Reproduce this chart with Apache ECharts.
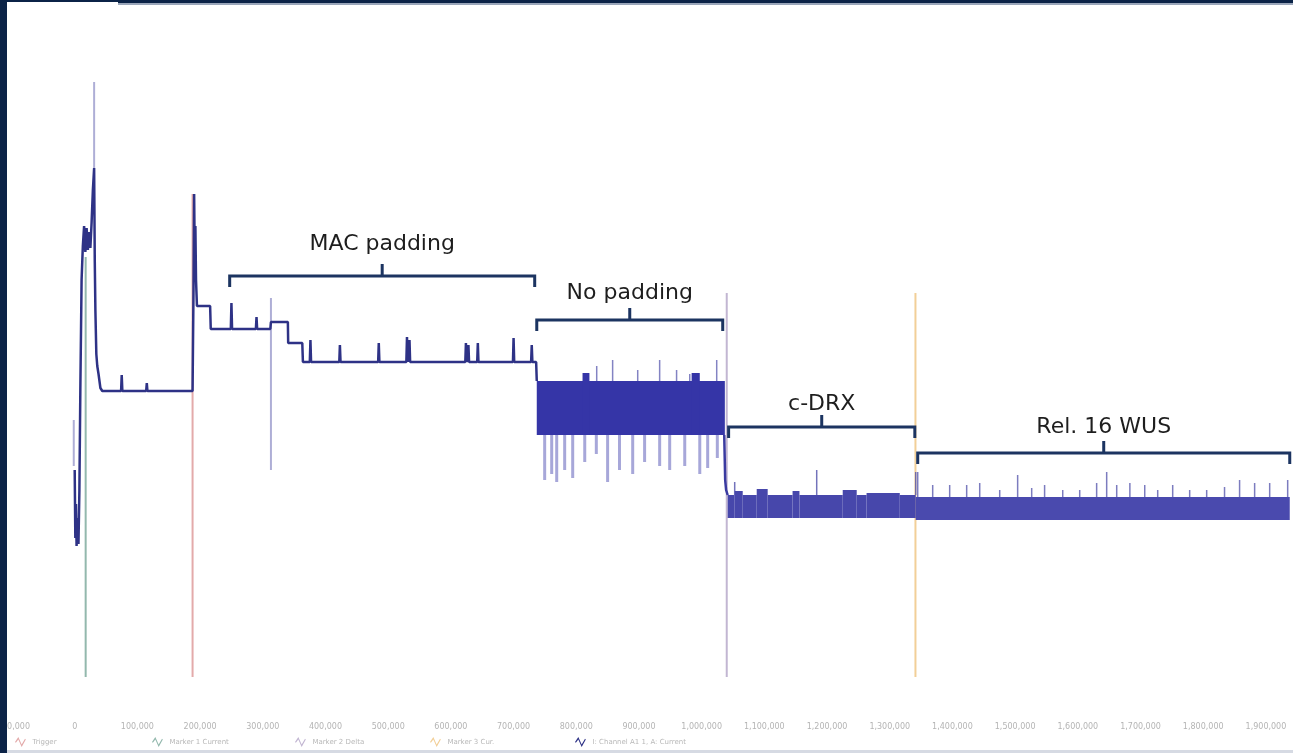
<!DOCTYPE html>
<html><head><meta charset="utf-8">
<script src="https://cdn.jsdelivr.net/npm/echarts@6/dist/echarts.min.js"></script>
<style>html,body{margin:0;padding:0;background:#fff}#c{width:1293px;height:753px}</style>
</head><body><div id="c"></div>
<script>
// time in thousands of samples, current in arbitrary units
const mainTrace = [
 [0,110],[1,76],[2,93],[3,72],[4.5,86],[6,73],[7.5,100],[9,150],[11,205],[13,222],[15,232],[17,219],[19,231],[21,220],[23,229],[25,221],[27,234],[29,250],[31,261],[32,215],[33,190],[34.5,168],[36,162],[38,158],[41,151],[44,149.5],
 [74,149.5],[75,157.5],[76,149.5],[114,149.5],[115,153.5],[116,149.5],[188,149.5],
 [189.5,200],[190.5,248],[191.5,215],[192.5,232],[193.5,205],[195,192],[216,192],[217,180.5],
 [249,180.5],[250,193.5],[251,180.5],[289,180.5],[290,186.5],[291,180.5],[312,180.5],[313,184],[340,184],[340.5,173.5],[363,173.5],[364,164],
 [375,164],[376,175],[377,164],[422,164],[423,172.5],[424,164],[484,164],[485,173.5],[486,164],[529,164],[530,176.5],[531,164],[533,164],[534,175],[535,164],
 [623,164],[624,173.5],[625,164],[627,164],[628,172.5],[629,164],[642,164],[643,173.5],[644,164],[699,164],[700,176],[701,164],[728,164],[729,172.5],[730,164],[736,164],[737,154.5]
];
const transition = [[1036,127.5],[1037.5,105],[1039,100],[1041.5,97.5]];
const lightSegments = [[-1.5,112,135],[31,261,304],[313,110,196]];
// bands: [tStart, tEnd, low, high]
const noPadBand = [[737,1037,127.5,154.5],[810,821,127.5,158.5],[984,997,127.5,158.5]];
const cdrxBand = [[1041.5,1052.7,86,97.5],[1052.7,1065.5,86,99.5],[1065.5,1087.8,86,97.5],[1087.8,1105.3,86,100.5],[1105.3,1145,86,97.5],[1145,1156,86,99.5],[1156,1225,86,97.5],[1225,1247.3,86,100],[1247.3,1263,86,97.5],[1263,1316,86,98.5],[1316,1341.4,86,97.5]];
const wusBand = [[1341.4,1938,85,96.5]];
// spikes / fingers: [t, low, high]
const noPadFingers = [[749.6,105,127.5],[760.8,108,127.5],[768.8,104,127.5],[781.5,110,127.5],[794.3,106,127.5],[813.5,114,127.5],[832,118,127.5],[850,104,127.5],[869,110,127.5],[890,108,127.5],[909,114,127.5],[933,112,127.5],[949,110,127.5],[973,112,127.5],[997,108,127.5],[1009.6,111,127.5],[1025,116,127.5]];
const noPadSpikes = [[832.6,154.5,162],[858,154.5,165],[898,154.5,160],[933,154.5,165],[960,154.5,160],[981,154.5,158],[1024,154.5,165]];
const cdrxSpikes = [[1052.7,97.5,104],[1183.5,97.5,110],[1341.4,97.5,109]];
const wusSpikes = [[1344.6,96.5,109],[1368.5,96.5,102.5],[1395.6,96.5,102.5],[1422.7,96.5,102.5],[1443.5,96.5,103.5],[1475.4,96.5,100],[1504,96.5,107.5],[1526.4,96.5,101],[1547,96.5,102.5],[1575.9,96.5,100],[1603,96.5,100],[1630,96.5,103.5],[1646,96.5,109],[1662,96.5,102.5],[1683,96.5,103.5],[1706.7,96.5,102.5],[1727.4,96.5,100],[1751.3,96.5,102.5],[1778.4,96.5,100],[1805.5,96.5,100],[1834,96.5,101.5],[1858,96.5,105],[1882,96.5,103.5],[1906,96.5,103.5],[1934.7,96.5,105]];
// markers: [t, bottom, top]
const markerNames = ['Trigger', 'Marker 1 Current', 'Marker 2 Delta', 'Marker 3 Cur.'];
const markerData = [[188,6.5,248],[17.5,6.5,216.5],[1040,6.5,198.5],[1341,6.5,198.5]];
const traceName = 'I: Channel A1 1, A: Current';
// annotation brackets: [tStart, tEnd, level]
const bracketLabels = ['MAC padding', 'No padding', 'c-DRX', 'Rel. 16 WUS'];
const bracketData = [[247.2,733.7,207],[737,1033.6,185],[1043,1340,131.5],[1344.6,1938,118.5]];
const xAxisCfg = {min: -100, max: 1940, interval: 100};

// ---- styling / layout ----
const markerColors = ['#e3aaaa', '#93b8ad', '#c2b6d2', '#f2cf98'];
const legendLeft = [15, 152, 295, 430, 575];
const labelGap = [32, 27, 23, 26];
const zigzagIcon = 'path://M0,7 L4,1 L8,10 L12,3 L13,4 L8,13 L4,4 L1,8 Z';

function segRenderer(color, width) {
  return function (params, api) {
    const a = api.coord([api.value(0), api.value(1)]);
    const b = api.coord([api.value(0), api.value(2)]);
    return {type: 'line', shape: {x1: a[0], y1: a[1], x2: b[0], y2: b[1]}, style: {stroke: color, lineWidth: width}};
  };
}
function bandRenderer(color) {
  return function (params, api) {
    const a = api.coord([api.value(0), api.value(3)]);
    const b = api.coord([api.value(1), api.value(2)]);
    return {type: 'rect', shape: {x: a[0], y: a[1], width: b[0] - a[0], height: b[1] - a[1]}, style: {fill: color}};
  };
}
function bracketRenderer(params, api) {
  const i = params.dataIndex;
  const a = api.coord([api.value(0), api.value(2)]);
  const b = api.coord([api.value(1), api.value(2)]);
  const y = a[1], xm = (a[0] + b[0]) / 2;
  const c = '#1c3461';
  return {type: 'group', children: [
    {type: 'polyline', shape: {points: [[a[0], y + 11], [a[0], y], [b[0], y], [b[0], y + 11]]}, style: {stroke: c, lineWidth: 3, fill: 'none'}},
    {type: 'line', shape: {x1: xm, y1: y, x2: xm, y2: y - 12}, style: {stroke: c, lineWidth: 3}},
    {type: 'text', style: {text: bracketLabels[i], x: xm, y: y - labelGap[i], align: 'center', verticalAlign: 'middle', fontSize: 22, fontFamily: 'DejaVu Sans', fill: '#1e1e1e'}}
  ]};
}
function custom(data, renderItem, z, encode) {
  return {type: 'custom', data: data, renderItem: renderItem, z: z, silent: true, encode: encode || {x: 0, y: [1, 2]}};
}

const series = [];
markerNames.forEach((n, i) => {
  series.push({name: n, type: 'line', symbol: 'none', z: 1, silent: true, color: markerColors[i],
    lineStyle: {width: 2, color: markerColors[i]},
    data: [[markerData[i][0], markerData[i][1]], [markerData[i][0], markerData[i][2]]]});
});
series.push(custom(lightSegments, segRenderer('#aeaed6', 2), 2));
series.push(custom(noPadFingers, segRenderer('rgba(95,95,185,0.55)', 3), 3));
series.push(custom(noPadBand, bandRenderer('#3535a7'), 4, {x: [0, 1], y: [2, 3]}));
series.push(custom(cdrxBand, bandRenderer('#4747ab'), 4, {x: [0, 1], y: [2, 3]}));
series.push(custom(wusBand, bandRenderer('#4a4aae'), 4, {x: [0, 1], y: [2, 3]}));
series.push(custom(noPadSpikes, segRenderer('rgba(90,90,175,0.75)', 1.5), 3));
series.push(custom(cdrxSpikes, segRenderer('rgba(80,80,170,0.8)', 1.5), 3));
series.push(custom(wusSpikes, segRenderer('rgba(80,80,170,0.75)', 1.5), 3));
series.push({name: traceName, type: 'line', symbol: 'none', z: 5, color: '#2e3286', silent: true,
  lineStyle: {width: 2.5, color: '#2e3286'}, data: mainTrace});
series.push({type: 'line', symbol: 'none', z: 5, silent: true, lineStyle: {width: 2.5, color: '#3a3aa0'}, data: transition});
series.push(custom(bracketData, bracketRenderer, 10, {x: [0, 1], y: 2}));

const legendNames = [markerNames[0], markerNames[1], markerNames[2], markerNames[3], traceName];
const chart = echarts.init(document.getElementById('c'));
chart.setOption({
  backgroundColor: '#ffffff',
  animation: false,
  grid: {left: 12, right: 2, top: 80, bottom: 63, containLabel: false, outerBoundsMode: 'none'},
  xAxis: {type: 'value', min: xAxisCfg.min, max: xAxisCfg.max, interval: xAxisCfg.interval,
    axisLine: {show: false}, axisTick: {show: false}, splitLine: {show: false},
    axisLabel: {margin: 33, fontSize: 8, color: '#b4b4b4', showMaxLabel: false, fontFamily: 'DejaVu Sans',
      formatter: v => (v * 1000).toLocaleString('en-US')}},
  yAxis: {type: 'value', min: 0, max: 305, show: false, splitLine: {show: false}},
  legend: legendNames.map((n, i) => ({data: [{name: n, icon: zigzagIcon}], left: legendLeft[i], top: 737, itemWidth: 14, itemHeight: 10, padding: 0,
    textStyle: {fontSize: 7, color: '#b8b8b8', fontFamily: 'DejaVu Sans'}})),
  series: series,
  graphic: [
    {type: 'rect', left: 0, top: 0, shape: {width: 7, height: 753}, style: {fill: '#0b2347'}, z: 100},
    {type: 'rect', left: 0, top: 0, shape: {width: 118, height: 2}, style: {fill: '#0b2347'}, z: 100},
    {type: 'rect', left: 118, top: 0, shape: {width: 1175, height: 3}, style: {fill: '#0b2347'}, z: 100},
    {type: 'rect', left: 118, top: 3, shape: {width: 1175, height: 2}, style: {fill: '#9aa6ba'}, z: 100},
    {type: 'rect', left: 7, top: 750, shape: {width: 1286, height: 3}, style: {fill: '#d6dae3'}, z: 100}
  ]
});
</script></body></html>
